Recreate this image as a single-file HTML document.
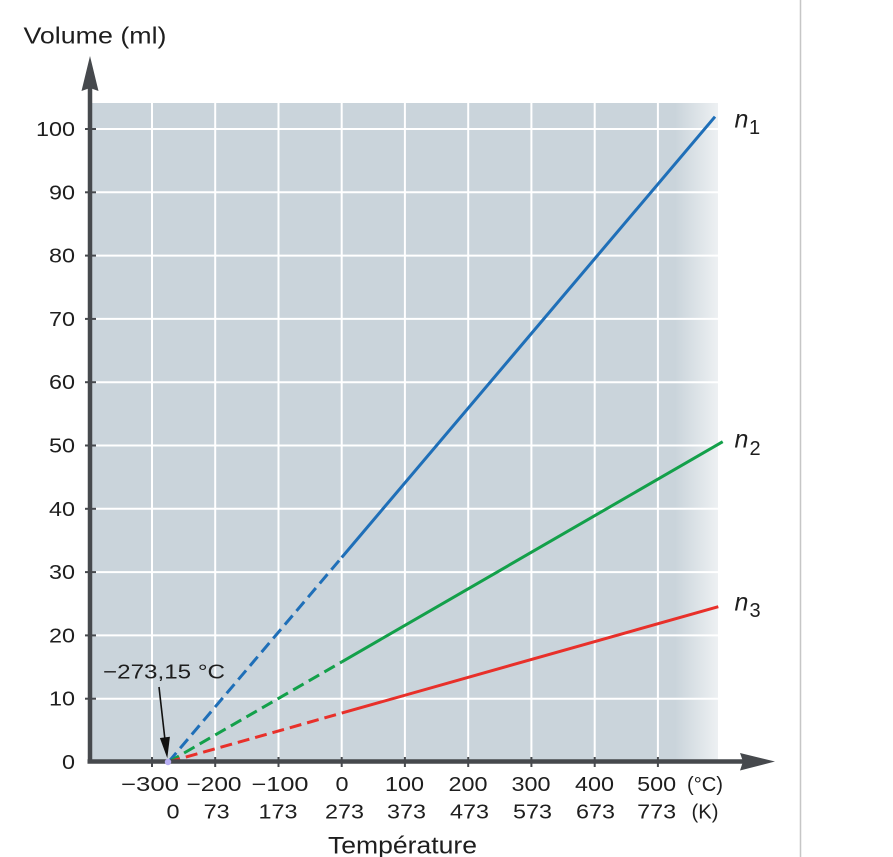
<!DOCTYPE html>
<html><head><meta charset="utf-8"><style>
html,body{margin:0;padding:0;background:#fff;}
svg{display:block;}
text{font-family:"Liberation Sans",sans-serif;fill:#1e1e1e;}
</style></head><body>
<svg width="893" height="857" viewBox="0 0 893 857" xmlns="http://www.w3.org/2000/svg">
<defs>
<linearGradient id="fade" x1="675" y1="0" x2="719" y2="0" gradientUnits="userSpaceOnUse">
<stop offset="0" stop-color="#cad4db"/>
<stop offset="1" stop-color="#eef1f3"/>
</linearGradient>
</defs>
<!-- right separator -->
<line x1="800.5" y1="0" x2="800.5" y2="857" stroke="#c6c6c6" stroke-width="1.5"/>
<!-- plot background -->
<rect x="90" y="103" width="628" height="659" fill="url(#fade)"/>
<rect x="90" y="103" width="586" height="659" fill="#cad4db"/>
<!-- grid -->
<g stroke="#ffffff" stroke-width="2">
<line x1="152" y1="103" x2="152" y2="762"/>
<line x1="215.2" y1="103" x2="215.2" y2="762"/>
<line x1="278.5" y1="103" x2="278.5" y2="762"/>
<line x1="341.7" y1="103" x2="341.7" y2="762"/>
<line x1="404.9" y1="103" x2="404.9" y2="762"/>
<line x1="468.2" y1="103" x2="468.2" y2="762"/>
<line x1="531.4" y1="103" x2="531.4" y2="762"/>
<line x1="594.7" y1="103" x2="594.7" y2="762"/>
<line x1="657.9" y1="103" x2="657.9" y2="762"/>
<line x1="90" y1="698.7" x2="718" y2="698.7"/>
<line x1="90" y1="635.4" x2="718" y2="635.4"/>
<line x1="90" y1="572.1" x2="718" y2="572.1"/>
<line x1="90" y1="508.8" x2="718" y2="508.8"/>
<line x1="90" y1="445.5" x2="718" y2="445.5"/>
<line x1="90" y1="382.2" x2="718" y2="382.2"/>
<line x1="90" y1="318.9" x2="718" y2="318.9"/>
<line x1="90" y1="255.6" x2="718" y2="255.6"/>
<line x1="90" y1="192.3" x2="718" y2="192.3"/>
<line x1="90" y1="129" x2="718" y2="129"/>
</g>
<!-- series -->
<g stroke-width="3" fill="none" stroke-linecap="butt">
<line x1="168.5" y1="762" x2="341.7" y2="557.5" stroke="#1f6fb8" stroke-dasharray="12 6"/>
<line x1="341.7" y1="557.5" x2="715" y2="116.7" stroke="#1f6fb8"/>
<line x1="168.5" y1="762" x2="341.7" y2="661.9" stroke="#13a04a" stroke-dasharray="12 6"/>
<line x1="341.7" y1="661.9" x2="722.7" y2="441.7" stroke="#13a04a"/>
<line x1="168.5" y1="762" x2="341.7" y2="713.1" stroke="#e8302a" stroke-dasharray="12 6"/>
<line x1="341.7" y1="713.1" x2="718.3" y2="606.7" stroke="#e8302a"/>
</g>
<!-- axes -->
<g stroke="#46494d" stroke-width="4.5">
<line x1="90" y1="86" x2="90" y2="763.5"/>
<line x1="87.5" y1="761.5" x2="745" y2="761.5"/>
</g>
<polygon points="90,56 81.5,91 90,88 98.5,91" fill="#46494d"/>
<polygon points="775,761.5 740,753 743,761.5 740,770.5" fill="#46494d"/>
<!-- ticks -->
<g stroke="#46494d" stroke-width="2">
<line x1="85" y1="698.7" x2="96" y2="698.7"/>
<line x1="85" y1="635.4" x2="96" y2="635.4"/>
<line x1="85" y1="572.1" x2="96" y2="572.1"/>
<line x1="85" y1="508.8" x2="96" y2="508.8"/>
<line x1="85" y1="445.5" x2="96" y2="445.5"/>
<line x1="85" y1="382.2" x2="96" y2="382.2"/>
<line x1="85" y1="318.9" x2="96" y2="318.9"/>
<line x1="85" y1="255.6" x2="96" y2="255.6"/>
<line x1="85" y1="192.3" x2="96" y2="192.3"/>
<line x1="85" y1="129" x2="96" y2="129"/>
<line x1="152" y1="757" x2="152" y2="767"/>
<line x1="215.2" y1="757" x2="215.2" y2="767"/>
<line x1="278.5" y1="757" x2="278.5" y2="767"/>
<line x1="341.7" y1="757" x2="341.7" y2="767"/>
<line x1="404.9" y1="757" x2="404.9" y2="767"/>
<line x1="468.2" y1="757" x2="468.2" y2="767"/>
<line x1="531.4" y1="757" x2="531.4" y2="767"/>
<line x1="594.7" y1="757" x2="594.7" y2="767"/>
<line x1="657.9" y1="757" x2="657.9" y2="767"/>
</g>
<!-- origin dot -->
<circle cx="168" cy="762" r="3.2" fill="#b7aef3"/>
<!-- annotation arrow -->
<line x1="159" y1="687" x2="165" y2="740" stroke="#111" stroke-width="1.6"/>
<polygon points="167.3,758.3 169.9,736.8 159.9,738" fill="#111"/>
<text x="103" y="678.5" font-size="20" textLength="122" lengthAdjust="spacingAndGlyphs">−273,15 °C</text>
<!-- y tick labels -->
<g font-size="20" text-anchor="end">
<text x="75" y="769" textLength="13" lengthAdjust="spacingAndGlyphs">0</text>
<text x="75" y="705.7" textLength="26" lengthAdjust="spacingAndGlyphs">10</text>
<text x="75" y="642.4" textLength="26" lengthAdjust="spacingAndGlyphs">20</text>
<text x="75" y="579.1" textLength="26" lengthAdjust="spacingAndGlyphs">30</text>
<text x="75" y="515.8" textLength="26" lengthAdjust="spacingAndGlyphs">40</text>
<text x="75" y="452.5" textLength="26" lengthAdjust="spacingAndGlyphs">50</text>
<text x="75" y="389.2" textLength="26" lengthAdjust="spacingAndGlyphs">60</text>
<text x="75" y="325.9" textLength="26" lengthAdjust="spacingAndGlyphs">70</text>
<text x="75" y="262.6" textLength="26" lengthAdjust="spacingAndGlyphs">80</text>
<text x="75" y="199.3" textLength="26" lengthAdjust="spacingAndGlyphs">90</text>
<text x="75" y="136" textLength="39" lengthAdjust="spacingAndGlyphs">100</text>
</g>
<!-- x labels row 1 -->
<g font-size="20" text-anchor="middle">
<text x="150" y="791" textLength="58" lengthAdjust="spacingAndGlyphs">−300</text>
<text x="214" y="791" textLength="55" lengthAdjust="spacingAndGlyphs">−200</text>
<text x="280" y="791" textLength="57" lengthAdjust="spacingAndGlyphs">−100</text>
<text x="342" y="791" textLength="13" lengthAdjust="spacingAndGlyphs">0</text>
<text x="404.5" y="791" textLength="39" lengthAdjust="spacingAndGlyphs">100</text>
<text x="468" y="791" textLength="39" lengthAdjust="spacingAndGlyphs">200</text>
<text x="531" y="791" textLength="39" lengthAdjust="spacingAndGlyphs">300</text>
<text x="594.5" y="791" textLength="39" lengthAdjust="spacingAndGlyphs">400</text>
<text x="656.7" y="791" textLength="39" lengthAdjust="spacingAndGlyphs">500</text>
<text x="705" y="791" textLength="36" lengthAdjust="spacingAndGlyphs">(°C)</text>
</g>
<!-- x labels row 2 -->
<g font-size="20" text-anchor="middle">
<text x="173" y="818.5" textLength="13" lengthAdjust="spacingAndGlyphs">0</text>
<text x="216.7" y="818.5" textLength="26" lengthAdjust="spacingAndGlyphs">73</text>
<text x="278" y="818.5" textLength="39" lengthAdjust="spacingAndGlyphs">173</text>
<text x="344.5" y="818.5" textLength="39" lengthAdjust="spacingAndGlyphs">273</text>
<text x="406.5" y="818.5" textLength="39" lengthAdjust="spacingAndGlyphs">373</text>
<text x="469.5" y="818.5" textLength="39" lengthAdjust="spacingAndGlyphs">473</text>
<text x="532.5" y="818.5" textLength="39" lengthAdjust="spacingAndGlyphs">573</text>
<text x="595.5" y="818.5" textLength="39" lengthAdjust="spacingAndGlyphs">673</text>
<text x="656.7" y="818.5" textLength="39" lengthAdjust="spacingAndGlyphs">773</text>
<text x="705" y="818.5" textLength="27" lengthAdjust="spacingAndGlyphs">(K)</text>
</g>
<!-- axis titles -->
<text x="23.5" y="43.5" font-size="23" textLength="143" lengthAdjust="spacingAndGlyphs">Volume (ml)</text>
<text x="328" y="853.5" font-size="24.5" textLength="149" lengthAdjust="spacingAndGlyphs">Température</text>
<!-- series labels -->
<g font-size="25">
<text x="734.5" y="127.7" font-style="italic">n</text>
<text x="749" y="134" font-size="20">1</text>
<text x="734.5" y="447.7" font-style="italic">n</text>
<text x="749.5" y="455" font-size="20">2</text>
<text x="734.5" y="610.7" font-style="italic">n</text>
<text x="749.5" y="617" font-size="20">3</text>
</g>
</svg>
</body></html>
